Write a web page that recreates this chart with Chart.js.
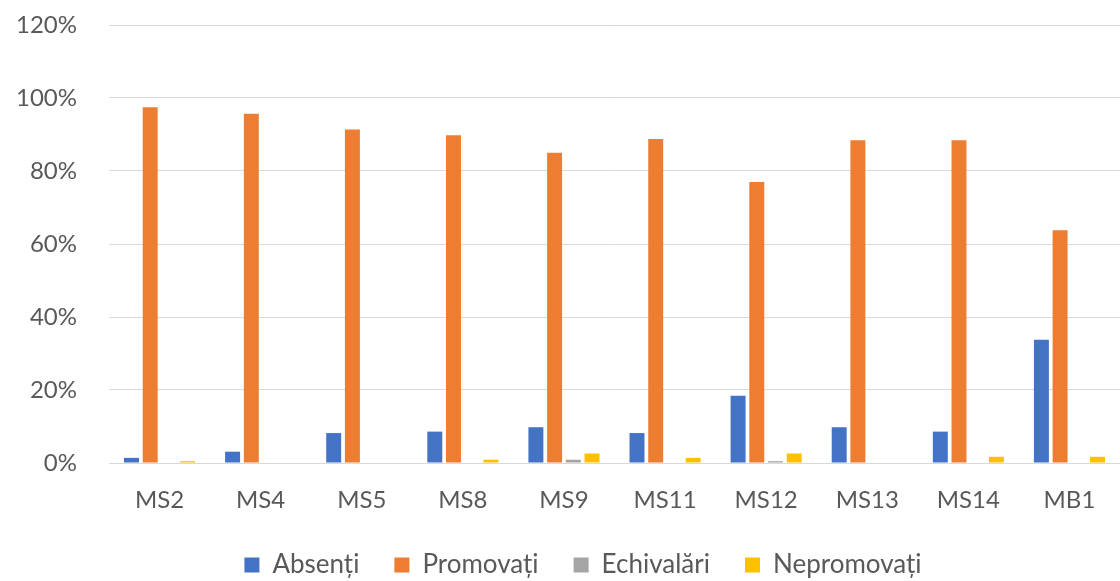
<!DOCTYPE html>
<html>
<head>
<meta charset="utf-8">
<script src="https://cdn.jsdelivr.net/npm/chart.js@4"></script>
<style>
  html, body { margin: 0; padding: 0; background: #fff; overflow: hidden; }
  #wrap { width: 1120px; height: 588px; }
</style>
</head>
<body>
<div id="wrap"><canvas id="myChartCanvas"></canvas></div>
<script>
const categories = ['MS2', 'MS4', 'MS5', 'MS8', 'MS9', 'MS11', 'MS12', 'MS13', 'MS14', 'MB1'];
const absenti = [0.014, 0.031, 0.082, 0.086, 0.098, 0.082, 0.184, 0.098, 0.086, 0.338];
const promovati = [0.975, 0.957, 0.914, 0.898, 0.850, 0.888, 0.770, 0.884, 0.884, 0.638];
const echivalari = [0, 0, 0, 0, 0.009, 0, 0.005, 0, 0, 0];
const nepromovati = [0.005, 0, 0, 0.009, 0.026, 0.014, 0.026, 0, 0.017, 0.017];
const yTicks = [0, 0.2, 0.4, 0.6, 0.8, 1.0, 1.2];

const textColor = '#595959';
const gridColor = '#d9d9d9';
const fontFamily = 'Lato, "Open Sans", sans-serif';

Chart.defaults.font.family = fontFamily;
Chart.defaults.color = textColor;

const barOpts = { categoryPercentage: 0.74, barPercentage: 0.8 };

const data = {
  labels: categories,
  datasets: [
    { label: 'Absenți', data: absenti, backgroundColor: '#4472C4', ...barOpts },
    { label: 'Promovați', data: promovati, backgroundColor: '#ED7D31', ...barOpts },
    { label: 'Echivalări', data: echivalari, backgroundColor: '#A5A5A5', ...barOpts },
    { label: 'Nepromovați', data: nepromovati, backgroundColor: '#FFC000', ...barOpts }
  ]
};

// legend in the original sits a bit right of centre
const legendShift = {
  id: 'legendShift',
  afterLayout(chart) {
    chart.legend.left += 23;
    chart.legend.right += 23;
  }
};

const config = {
  type: 'bar',
  data: data,
  plugins: [legendShift],
  options: {
    responsive: true,
    maintainAspectRatio: false,
    animation: false,
    layout: { padding: 0 },
    plugins: {
      tooltip: { enabled: false },
      legend: {
        position: 'bottom',
        labels: {
          boxWidth: 15,
          boxHeight: 15,
          padding: 35,
          font: { size: 26 },
          color: textColor
        }
      }
    },
    scales: {
      x: {
        grid: { display: false, drawTicks: false },
        border: { display: true, color: gridColor, width: 1 },
        ticks: { padding: 23, font: { size: 24 }, color: textColor },
        afterFit: (scale) => { scale.height = 54; }
      },
      y: {
        min: 0,
        max: 1.2,
        afterBuildTicks: (scale) => { scale.ticks = yTicks.map(v => ({ value: v })); },
        grid: { color: gridColor, lineWidth: 1, drawTicks: false },
        border: { display: false },
        ticks: {
          padding: 32,
          font: { size: 24 },
          color: textColor,
          callback: (v) => Math.round(v * 100) + '%'
        },
        afterFit: (scale) => {
          scale.width = 109;
          scale.paddingTop = 25;
          scale.paddingBottom = 0;
        }
      }
    }
  }
};

const canvasEl = document.getElementById('myChartCanvas');
const chart = new Chart(canvasEl, config);
</script>
</body>
</html>
